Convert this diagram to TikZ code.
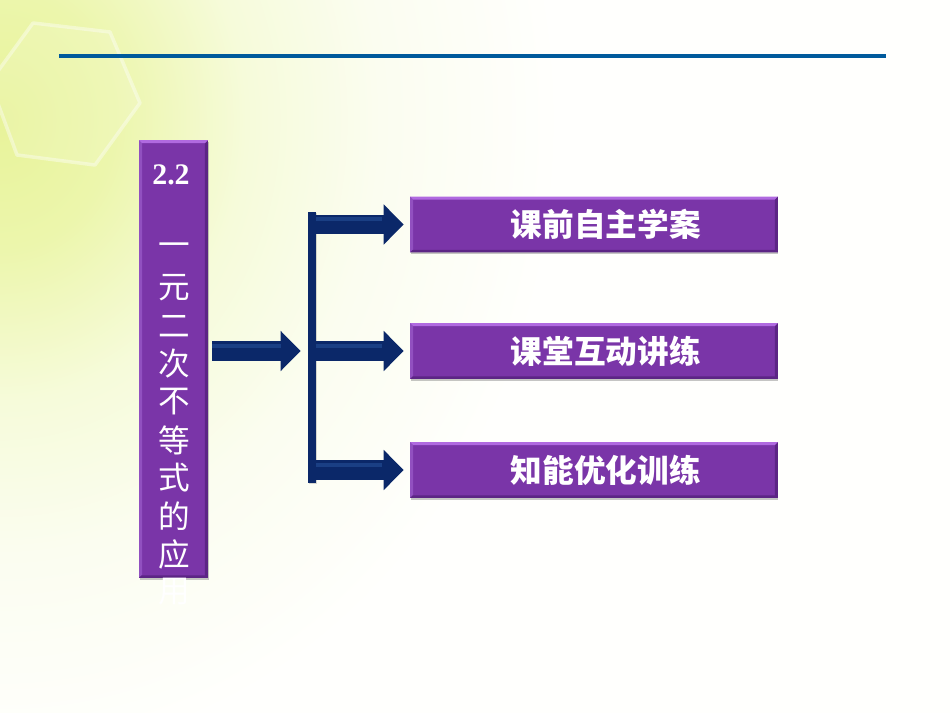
\documentclass[tikz,border=0pt]{standalone}
\usepackage{fontspec}
\setmainfont{Liberation Serif}
\newfontfamily\cjk{Noto Sans CJK SC}
\usetikzlibrary{arrows.meta,shadows}
\definecolor{glowa}{HTML}{E8F39A}
\definecolor{glowb}{HTML}{ECF6AC}
\definecolor{glowc}{HTML}{F6FBDA}
\definecolor{glowd}{HTML}{FBFDF0}
\definecolor{glowe}{HTML}{FFFFFD}
\definecolor{boxpurple}{HTML}{7A35A8}
\definecolor{boxtop}{HTML}{B06AE0}
\definecolor{boxside}{HTML}{9150C0}
\definecolor{boxlow}{HTML}{5C2585}
\definecolor{navy}{HTML}{0B2869}
\definecolor{navylight}{HTML}{1A3F84}
\definecolor{rulecol}{HTML}{005A9C}
\pgfdeclareradialshading{bgglow}{\pgfpoint{0bp}{0bp}}{%
  color(0bp)=(glowa); color(5bp)=(glowb); color(11bp)=(glowc); color(17bp)=(glowd); color(25bp)=(glowe); color(50bp)=(glowe)}
\tikzset{
  bevelbox/.style={draw=none,fill=boxpurple,inner sep=0pt,drop shadow={shadow xshift=0.3pt,shadow yshift=-0.9pt,opacity=0.45},
    path picture={
      \fill[boxside] (path picture bounding box.north west) -- (path picture bounding box.south west)
        -- ([xshift=0.06cm,yshift=0.05cm]path picture bounding box.south west)
        -- ([xshift=0.06cm,yshift=-0.06cm]path picture bounding box.north west) -- cycle;
      \fill[boxlow] (path picture bounding box.north east) -- (path picture bounding box.south east)
        -- ([xshift=-0.06cm,yshift=0.05cm]path picture bounding box.south east)
        -- ([xshift=-0.06cm,yshift=-0.06cm]path picture bounding box.north east) -- cycle;
      \fill[boxtop] (path picture bounding box.north west) -- (path picture bounding box.north east)
        -- ([xshift=-0.06cm,yshift=-0.06cm]path picture bounding box.north east)
        -- ([xshift=0.06cm,yshift=-0.06cm]path picture bounding box.north west) -- cycle;
      \fill[boxlow] (path picture bounding box.south west) -- (path picture bounding box.south east)
        -- ([xshift=-0.05cm,yshift=0.05cm]path picture bounding box.south east)
        -- ([xshift=0.05cm,yshift=0.05cm]path picture bounding box.south west) -- cycle;
    }},
  menubox/.style={bevelbox,minimum width=7.36cm,minimum height=1.12cm,text=white,font=\cjk\bfseries\fontsize{18}{20}\selectfont},
  sidechar/.style={text=white,inner sep=0pt,font=\cjk\fontsize{18}{20}\selectfont},
  bararrow/.style={navy,line width=0.4cm,-{Triangle[width=0.78cm,length=0.4cm]}},
  barglow/.style={navylight,line width=0.08cm},
}
\begin{document}
\begin{tikzpicture}[x=0.02cm,y=-0.02cm]
\useasboundingbox (0,0) rectangle (950,713);
\begin{scope}
\clip (0,0) rectangle (950,713);
\fill[glowe] (0,0) rectangle (950,713);
\shade[shading=bgglow] (0,120) ellipse (560 and 640);
\draw[white,opacity=0.4,line width=0.07cm,line join=round] (33,23) -- (110,32) -- (140,103) -- (95,165) -- (17,155) -- (-10,82) -- cycle;
\fill[white,opacity=0.12] (33,23) -- (110,32) -- (140,103) -- (95,165) -- (17,155) -- (-10,82) -- cycle;
\end{scope}
\draw[rulecol,line width=0.08cm] (59,56) -- (886,56);
% left column
\node[bevelbox,minimum width=1.38cm,minimum height=8.76cm] (side) at (173.5,359) {};
\node[text=white,inner sep=0pt,font=\bfseries\fontsize{17}{20}\selectfont] (num) at (171,175) {2.2};
\foreach \ch [count=\i from 0] in {一,元,二,次,不,等,式,的,应,用}
  \node[sidechar] (char\i) at (174,250+38*\i) {\ch};
% boxes on the right
\node[menubox] (before) at (594,224.5) {\hspace*{0.75em}\cjk 课前自主学案};
\node[menubox] (inclass) at (594,351) {\hspace*{0.75em}\cjk 课堂互动讲练};
\node[menubox] (after) at (594,470) {\hspace*{0.75em}\cjk 知能优化训练};
\node[fill=navy,inner sep=0pt,minimum width=0.16cm,minimum height=5.42cm,drop shadow={shadow xshift=0.3pt,shadow yshift=-0.8pt,opacity=0.3}] (bar) at (312,347.5) {};
\foreach \target in {before,inclass,after}{
  \draw[bararrow,shorten >=0.12cm] (bar.east |- \target.west) -- (\target.west);
  \draw[barglow] ([yshift=0.11cm]bar.east |- \target.west) -- ([xshift=-0.56cm,yshift=0.11cm]\target.west);
}
\draw[bararrow,shorten <=0.08cm,shorten >=0.14cm] (side.east |- inclass.west) -- (bar.west |- inclass.west);
\draw[barglow] ([xshift=0.08cm,yshift=0.11cm]side.east |- inclass.west) -- ([xshift=-0.54cm,yshift=0.11cm]bar.west |- inclass.west);
\end{tikzpicture}
\end{document}
